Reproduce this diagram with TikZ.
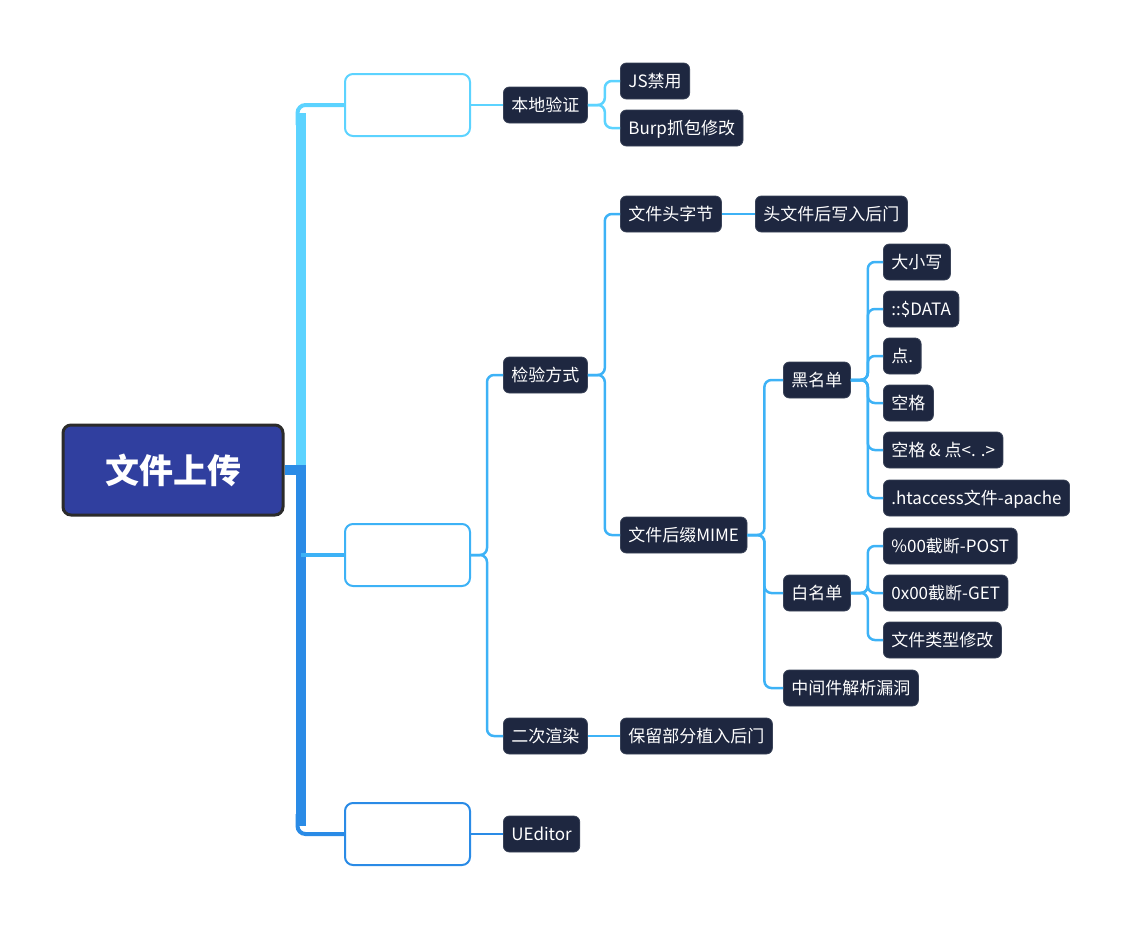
\documentclass[tikz,border=0pt]{standalone}
\usepackage{fontspec}
\setmainfont{Noto Sans CJK SC}
\usepackage{xcolor}
\usetikzlibrary{calc,positioning}
\definecolor{rootfill}{HTML}{303F9F}
\definecolor{rootline}{HTML}{2B2B2B}
\definecolor{leaffill}{HTML}{1E2740}
\definecolor{leafline}{HTML}{3A4358}
\definecolor{lineA}{HTML}{5CD3FF}
\definecolor{lineB}{HTML}{3DB2F6}
\definecolor{lineC}{HTML}{2A8BE6}
\tikzset{
	topic/.style={draw=rootline, line width=3, fill=rootfill, text=white, rounded corners=8,
		minimum width=220, minimum height=90, text height=30, text depth=4,
		font=\fontsize{34}{34}\selectfont\bfseries},
	group/.style={draw, line width=2, fill=white, rounded corners=8, minimum width=125, minimum height=62},
	leaf/.style={draw=leafline, line width=0.8, fill=leaffill, text=white, rounded corners=6, anchor=west,
		minimum height=36, inner xsep=8, inner ysep=0, text height=14.5, text depth=1.5,
		font=\fontsize{17}{17}\selectfont},
	link/.style={line width=2.5, rounded corners=7},
}
\begin{document}
\begin{tikzpicture}[x=1pt,y=-1pt]
                        \useasboundingbox (0,0) rectangle (1138,927);
                        
                        % Marking point {root}
                        \node [topic] (root) at (173,470) {文件上传};%
                        \coordinate (tk) at ($(root.east)+(16,0)$);%
                        
                        % Marking point {groups}
                        \node [group, draw=lineA] (ga) at (407.5,105) {};%
                        \node [group, draw=lineB] (gb) at (407.5,555) {};%
                        \node [group, draw=lineC] (gc) at (407.5,834) {};%
                        
                        % Drawing trunk root ga
                        \draw [line width=10, color=lineA] (tk) -- ($(tk |- ga.west)+(0,8)$);%
                        \draw [line width=4, color=lineA, rounded corners=8] ($(tk |- ga.west)+(-3,20)$) |- (ga.west);%
                        
                        % Drawing trunk root gc
                        \draw [line width=10, color=lineC] (root.east) -- ($(tk)+(5,0)$);%
                        \draw [line width=10, color=lineC] ($(tk)+(0,-5)$) -- ($(tk |- gc.west)+(0,-8)$);%
                        \draw [line width=4, color=lineC, rounded corners=8] ($(tk |- gc.west)+(-3,-20)$) |- (gc.west);%
                        
                        % Drawing trunk root gb
                        \draw [line width=4, color=lineB] (tk |- gb.west) -- (gb.west);%
                        
                        % Marking point {local}
                        \node [leaf] (bd) at (503,105) {本地验证};%
                        \node [leaf] (js) at (620,81) {JS禁用};%
                        \node [leaf] (bp) at (620,128) {Burp抓包修改};%
                        
                        % Marking point {check}
                        \node [leaf] (jy) at (503,375) {检验方式};%
                        \node [leaf] (tz) at (620,214) {文件头字节};%
                        \node [leaf] (tw) at (755,214) {头文件后写入后门};%
                        \node [leaf] (hz) at (620,535) {文件后缀MIME};%
                        
                        % Marking point {blacklist}
                        \node [leaf] (hm) at (783,380) {黑名单};%
                        \node [leaf] (dx) at (883,262) {大小写};%
                        \node [leaf] (dt) at (883,309) {::\$DATA};%
                        \node [leaf] (dd) at (883,356) {点.};%
                        \node [leaf] (kg) at (883,403) {空格};%
                        \node [leaf] (kd) at (883,450) {空格 \& 点<. .>};%
                        \node [leaf] (ht) at (883,498) {.htaccess文件-apache};%
                        
                        % Marking point {whitelist}
                        \node [leaf] (bm) at (783,593) {白名单};%
                        \node [leaf] (jp) at (883,546) {\%00截断-POST};%
                        \node [leaf] (jg) at (883,593) {0x00截断-GET};%
                        \node [leaf] (lx) at (883,640) {文件类型修改};%
                        \node [leaf] (zj) at (783,688) {中间件解析漏洞};%
                        
                        % Marking point {render}
                        \node [leaf] (ec) at (503,736) {二次渲染};%
                        \node [leaf] (bl) at (620,736) {保留部分植入后门};%
                        
                        % Marking point {editor}
                        \node [leaf] (ue) at (503,834) {UEditor};%
                        
                        % Drawing segment ga bd js bp
                        \draw [link, color=lineA] (ga.east) -- (bd.west);%
                        \draw [link, color=lineA] (bd.east) -- ++(17,0) |- (js.west);%
                        \draw [link, color=lineA] (bd.east) -- ++(17,0) |- (bp.west);%
                        
                        % Drawing segment gb jy ec
                        \draw [link, color=lineB] (gb.east) -- ++(16,0) |- (jy.west);%
                        \draw [link, color=lineB] (gb.east) -- ++(16,0) |- (ec.west);%
                        
                        % Drawing segment jy tz hz
                        \draw [link, color=lineB] (jy.east) -- ++(17,0) |- (tz.west);%
                        \draw [link, color=lineB] (jy.east) -- ++(17,0) |- (hz.west);%
                        \draw [link, color=lineB] (tz.east) -- (tw.west);%
                        
                        % Drawing segment hz hm bm zj
                        \draw [link, color=lineB] (hz.east) -- ++(17,0) |- (hm.west);%
                        \draw [link, color=lineB] (hz.east) -- ++(17,0) |- (bm.west);%
                        \draw [link, color=lineB] (hz.east) -- ++(17,0) |- (zj.west);%
                        
                        % Drawing segment hm dx dt dd kg kd ht
                        \draw [link, color=lineB] (hm.east) -- ++(17,0) |- (dx.west);%
                        \draw [link, color=lineB] (hm.east) -- ++(17,0) |- (dt.west);%
                        \draw [link, color=lineB] (hm.east) -- ++(17,0) |- (dd.west);%
                        \draw [link, color=lineB] (hm.east) -- ++(17,0) |- (kg.west);%
                        \draw [link, color=lineB] (hm.east) -- ++(17,0) |- (kd.west);%
                        \draw [link, color=lineB] (hm.east) -- ++(17,0) |- (ht.west);%
                        
                        % Drawing segment bm jp jg lx
                        \draw [link, color=lineB] (bm.east) -- ++(17,0) |- (jp.west);%
                        \draw [link, color=lineB] (bm.east) -- ++(17,0) |- (jg.west);%
                        \draw [link, color=lineB] (bm.east) -- ++(17,0) |- (lx.west);%
                        
                        % Drawing segment ec bl gc ue
                        \draw [link, color=lineB] (ec.east) -- (bl.west);%
                        \draw [link, color=lineC] (gc.east) -- (ue.west);%
                        
                        \end{tikzpicture}
\end{document}
